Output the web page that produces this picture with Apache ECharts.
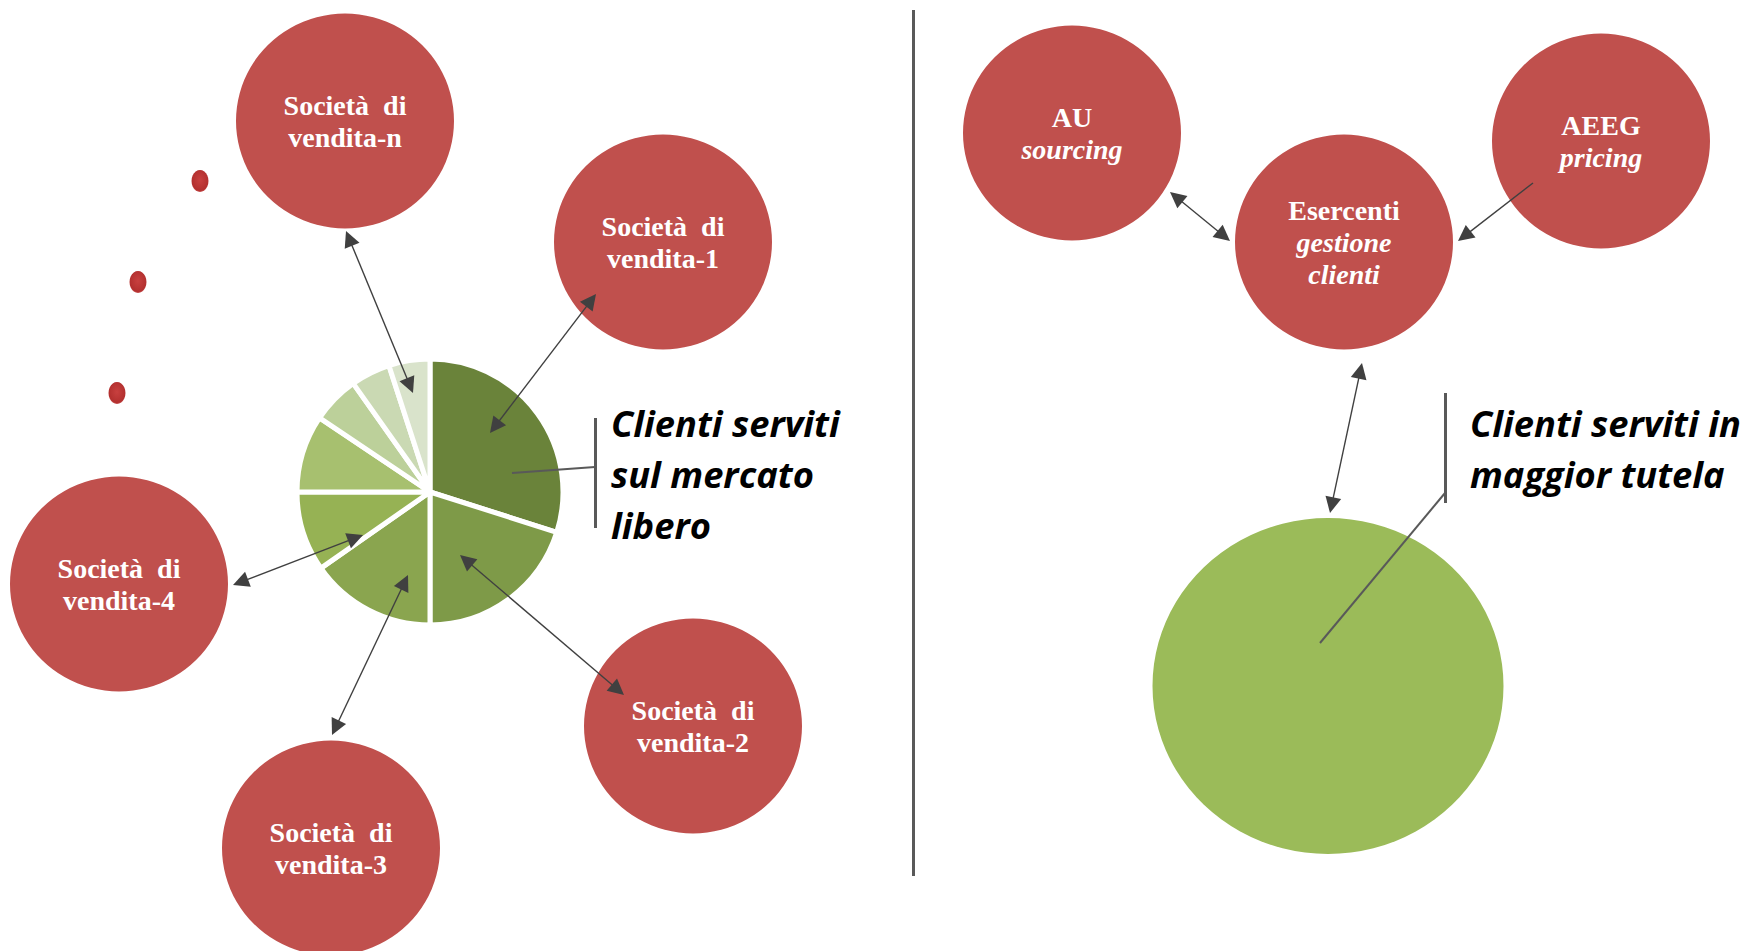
<!DOCTYPE html>
<html>
<head>
<meta charset="utf-8">
<script src="https://cdn.jsdelivr.net/npm/echarts@6/dist/echarts.min.js"></script>
<style>
html,body{margin:0;padding:0;background:#fff;}
#chart{width:1747px;height:951px;}
</style>
</head>
<body>
<div id="chart"></div>
<script>
// ---- data ----
const sliceNames = ['Quota 1','Quota 2','Quota 3','Quota 4','Quota 5','Quota 6','Quota 7','Quota 8'];
const sliceValues = [29.9, 20.1, 15.3, 9.7, 9.4, 5.8, 4.8, 5.0];
const leftNodeLabels = ['Società  di\nvendita-n','Società  di\nvendita-1','Società  di\nvendita-2','Società  di\nvendita-3','Società  di\nvendita-4'];
const rightNodeTitles = ['AU','Esercenti','AEEG'];
const rightNodeSubtitles = ['sourcing','gestione\nclienti','pricing'];
const calloutLeft = ['Clienti serviti','sul mercato','libero'];
const calloutRight = ['Clienti serviti in','maggior tutela'];

// ---- layout (pixel space) ----
const W = 1747, H = 951;
const sliceColors = ['#6a833a','#7e9a48','#8aa54f','#96b254','#a7c06f','#bcd09a','#cad9b3','#d9e3cb'];
const leftNodePos = [[345,121],[663,242],[693,726],[331,848],[119,584]];
const rightNodePos = [[1072,133],[1344,242],[1601,141]];
const nodeSize = [218,215];
const dotPos = [[200,181],[138,282],[117,393]];
const ellipsePos = [1328,686];
const ellipseSize = [351,336];
const pieCenter = [430,492];
const doubleArrows = [
  [[346,231],[413,393]],
  [[596,294],[490,433]],
  [[624,695],[460,555]],
  [[332,735],[408,575]],
  [[233,585],[363,535]],
  [[1170,192],[1230,241]],
  [[1362,363],[1330,513]]
];
const singleArrows = [
  [[1533,183],[1458,241]]
];
const plainLines = [
  [[512,473],[595,467]],
  [[1320,643],[1445,493]]
];
const bracketLines = [
  [[595,418],[595,528]],
  [[1445,393],[1445,503]],
  [[913,10],[913,876]]
];

const AH = 16; // arrowhead size
function pull(tip, other, d){
  const dx = other[0]-tip[0], dy = other[1]-tip[1];
  const L = Math.hypot(dx,dy);
  return [tip[0]+dx/L*d, tip[1]+dy/L*d];
}
const dblData = doubleArrows.map(a => ({coords:[pull(a[0],a[1],AH/2), pull(a[1],a[0],AH/2)]}));
const sglData = singleArrows.map(a => ({coords:[a[0], pull(a[1],a[0],AH/2)]}));

const chart = echarts.init(document.getElementById('chart'), null, {renderer:'svg'});

const serifLabel = {
  show:true, position:'inside', color:'#ffffff',
  fontFamily:'Liberation Serif', fontWeight:'bold', fontSize:28, lineHeight:32, align:'center'
};

const textEls = [];
const calloutFont = 'italic bold 36.3px "Open Sans", "Noto Sans", sans-serif';
calloutLeft.forEach((t,i)=>{
  textEls.push({type:'text', x:611, y:423+i*51, style:{text:t, font:calloutFont, fill:'#000', verticalAlign:'middle', align:'left'}, z:100});
});
calloutRight.forEach((t,i)=>{
  textEls.push({type:'text', x:1470, y:423+i*51, style:{text:t, font:calloutFont, fill:'#000', verticalAlign:'middle', align:'left'}, z:100});
});

const option = {
  animation:false,
  backgroundColor:'#ffffff',
  grid:{left:0,right:0,top:0,bottom:0},
  xAxis:{type:'value',min:0,max:W,show:false},
  yAxis:{type:'value',min:0,max:H,inverse:true,show:false},
  graphic:textEls,
  series:[
    {
      type:'pie', name:'Mercato libero', center:pieCenter, radius:133,
      startAngle:90, clockwise:true, z:2,
      label:{show:false}, labelLine:{show:false}, silent:true,
      itemStyle:{borderColor:'#ffffff', borderWidth:5},
      data: sliceValues.map((v,i)=>({name:sliceNames[i], value:v, itemStyle:{color:sliceColors[i]}}))
    },
    {
      type:'scatter', name:'Società di vendita', z:3, silent:true,
      symbol:'circle', symbolSize:nodeSize,
      itemStyle:{color:'#c0504d', opacity:1},
      label:Object.assign({}, serifLabel, {formatter:p=>leftNodeLabels[p.dataIndex]}),
      data:leftNodePos
    },
    {
      type:'scatter', name:'Attori', z:3, silent:true,
      symbol:'circle', symbolSize:nodeSize,
      itemStyle:{color:'#c0504d', opacity:1},
      label:Object.assign({}, serifLabel, {
        formatter:p=>'{b|'+rightNodeTitles[p.dataIndex]+'}\n'+rightNodeSubtitles[p.dataIndex].split('\n').map(s=>'{i|'+s+'}').join('\n'),
        rich:{
          b:{fontFamily:'Liberation Serif', fontWeight:'bold', fontSize:28, lineHeight:32, color:'#fff'},
          i:{fontFamily:'Liberation Serif', fontWeight:'bold', fontStyle:'italic', fontSize:28, lineHeight:32, color:'#fff'}
        }
      }),
      data:rightNodePos
    },
    {
      type:'scatter', name:'Maggior tutela', z:2, silent:true,
      symbol:'circle', symbolSize:ellipseSize,
      itemStyle:{color:'#9bbb59', opacity:1},
      data:[ellipsePos]
    },
    {
      type:'scatter', name:'punti', z:2, silent:true,
      symbol:'circle', symbolSize:[17,22],
      itemStyle:{color:new echarts.graphic.RadialGradient(0.5,0.45,0.6,[{offset:0,color:'#c8403f'},{offset:0.8,color:'#b3302f'},{offset:1,color:'#d66a6a'}]), opacity:1},
      data:dotPos
    },
    {
      type:'lines', coordinateSystem:'cartesian2d', z:10, silent:true,
      symbol:['triangle','triangle'], symbolSize:AH,
      lineStyle:{color:'#404040', width:1.4, opacity:1, curveness:0},
      itemStyle:{color:'#404040'},
      data:dblData
    },
    {
      type:'lines', coordinateSystem:'cartesian2d', z:10, silent:true,
      symbol:['none','triangle'], symbolSize:AH,
      lineStyle:{color:'#404040', width:1.4, opacity:1, curveness:0},
      data:sglData
    },
    {
      type:'lines', coordinateSystem:'cartesian2d', z:10, silent:true,
      symbol:['none','none'],
      lineStyle:{color:'#595959', width:2, opacity:1, curveness:0},
      data:plainLines.map(l=>({coords:l}))
    },
    {
      type:'lines', coordinateSystem:'cartesian2d', z:10, silent:true,
      symbol:['none','none'],
      lineStyle:{color:'#595959', width:3, opacity:1, curveness:0},
      data:bracketLines.map(l=>({coords:l}))
    }
  ]
};
chart.setOption(option);
</script>
</body>
</html>
